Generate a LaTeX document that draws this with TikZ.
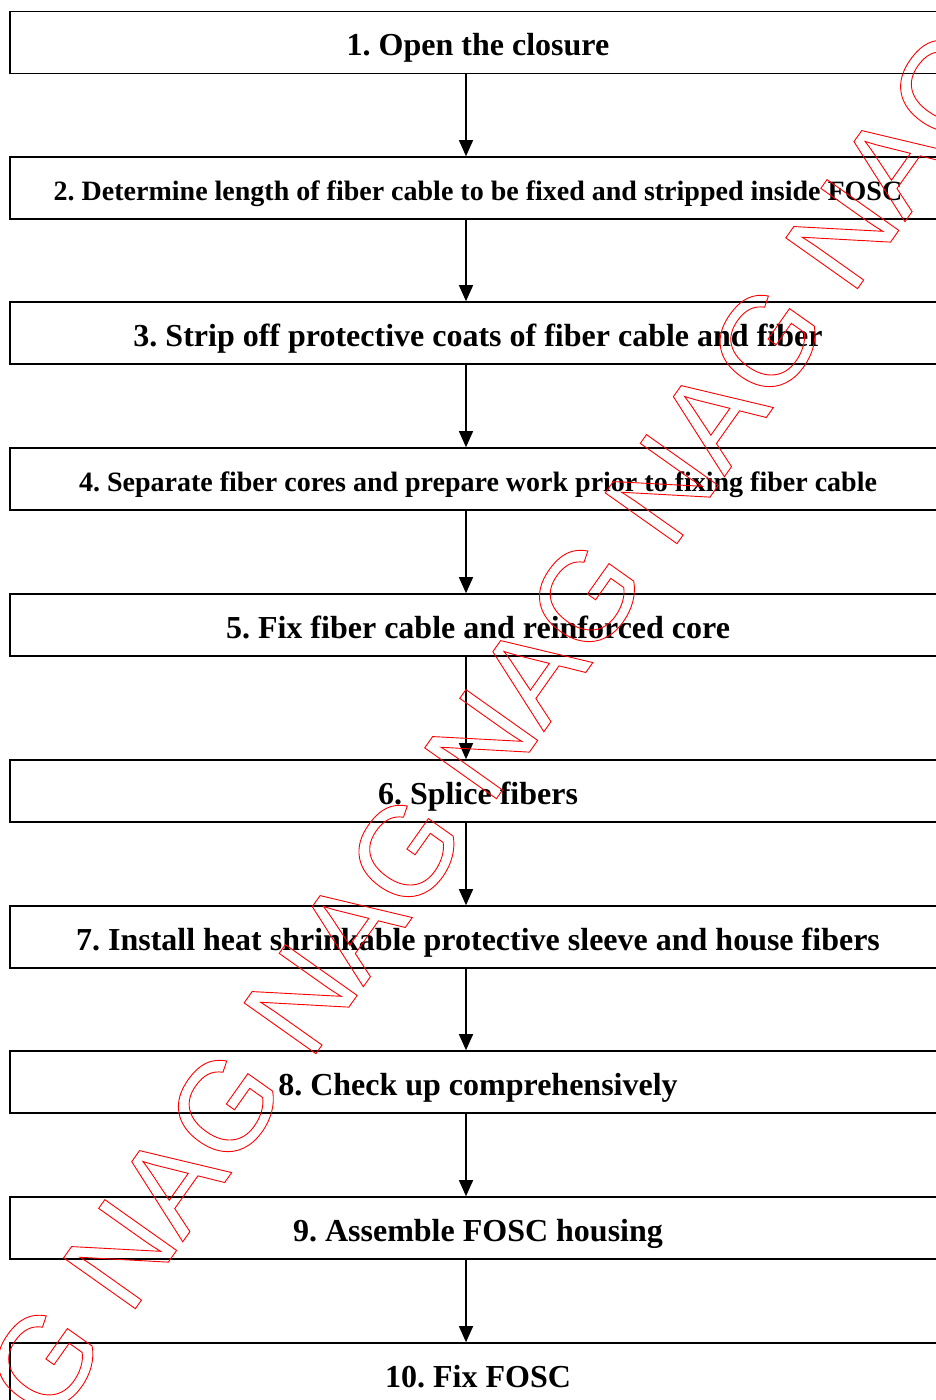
\documentclass[tikz,border=0pt]{standalone}
\usepackage{fontspec}
\setmainfont{Liberation Serif}
\newfontfamily\wmfont{Liberation Sans}
\usetikzlibrary{arrows.meta}
\frenchspacing
\newcommand\outlinetext[1]{\special{pdf:literal direct 1 Tr 0.9 w}#1\special{pdf:literal direct 0 Tr}}
\tikzset{
  stepbox/.style={draw=black, line width=1.6pt, rectangle, minimum width=936pt,
    minimum height=62pt, inner sep=0pt, text height=26pt, text depth=0pt,
    font=\bfseries\frenchspacing\fontsize{32}{36}\selectfont},
  smallbox/.style={stepbox, text height=24pt, font=\bfseries\frenchspacing\fontsize{28}{32}\selectfont},
  flow/.style={line width=1.4pt, -{Triangle[width=14pt,length=16pt]}},
  wm/.style={text=red, inner sep=0pt, font=\wmfont\fontsize{127.8}{130}\selectfont}
}
\begin{document}
\begin{tikzpicture}[x=1pt,y=-1pt]
\useasboundingbox (0,0) rectangle (936,1400);
\coordinate (ax) at (466,0);
\node[stepbox]  (b1)  at (478,42.5) {1. Open the closure};
\node[smallbox] (b2)  at (478,188)  {2. Determine length of fiber cable to be fixed and stripped inside FOSC};
\node[stepbox]  (b3)  at (478,333)  {3. Strip off protective coats of fiber cable and fiber};
\node[smallbox] (b4)  at (478,479)  {4. Separate fiber cores and prepare work prior to fixing fiber cable};
\node[stepbox]  (b5)  at (478,625)  {5. Fix fiber cable and reinforced core};
\node[stepbox]  (b6)  at (478,791)  {6. Splice fibers};
\node[stepbox]  (b7)  at (478,937)  {7. Install heat shrinkable protective sleeve and house fibers};
\node[stepbox]  (b8)  at (478,1082) {8. Check up comprehensively};
\node[stepbox]  (b9)  at (478,1228) {9. Assemble FOSC housing};
\node[stepbox]  (b10) at (478,1374) {10. Fix FOSC};
\foreach \a/\b in {b1/b2,b2/b3,b3/b4,b4/b5,b5/b6,b6/b7,b7/b8,b8/b9,b9/b10}{
  \draw[flow] (\a.south -| ax) -- (\b.north -| ax);
}
\begin{scope}
\clip (0,0) rectangle (936,1400);
\node[wm, anchor=base west, rotate=54.7] (wmk) at (-51.3,1572.3)
  {\outlinetext{NAG NAG NAG NAG NAG NAG NAG NAG}};
\end{scope}
\end{tikzpicture}
\end{document}
